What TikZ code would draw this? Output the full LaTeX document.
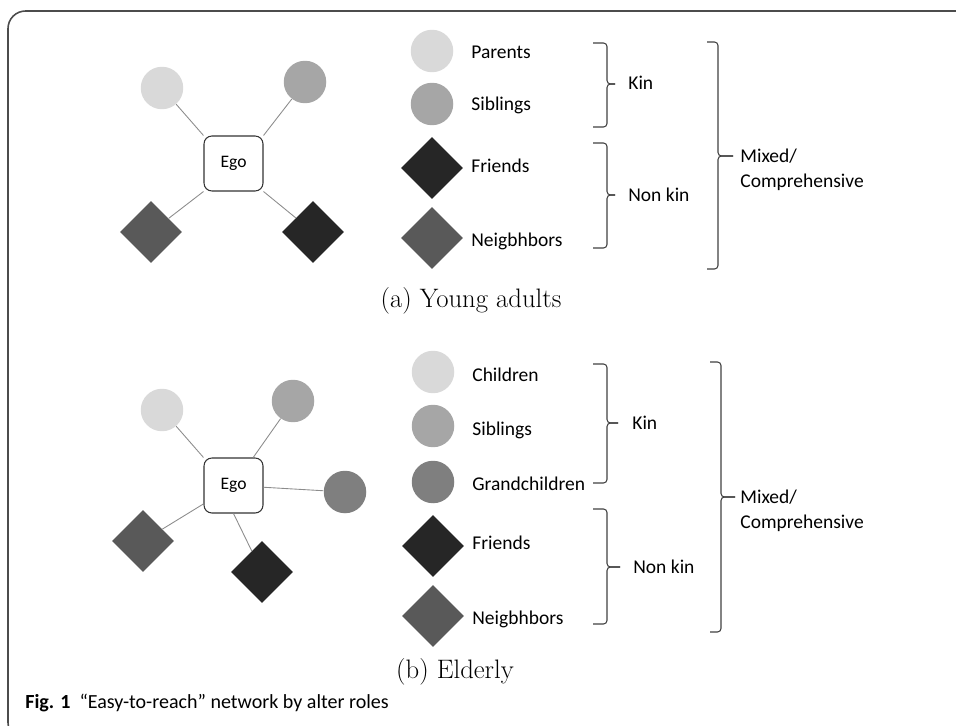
\documentclass[tikz,border=0pt]{standalone}
\usepackage{fontspec}
\newfontfamily\calibri{Carlito}
\usetikzlibrary{shapes.geometric}

\definecolor{lightalt}{HTML}{D9D9D9}
\definecolor{midalt}{HTML}{A6A6A6}
\definecolor{grandalt}{HTML}{7F7F7F}
\definecolor{neighalt}{HTML}{595959}
\definecolor{friendalt}{HTML}{262626}

\tikzset{
  alter/.style={circle,minimum size=0.85cm,inner sep=0pt},
  altsq/.style={diamond,minimum size=1.24cm,inner sep=0pt},
  egobox/.style={draw=black!80,line width=0.6pt,rounded corners=4.5pt,
    minimum width=1.18cm,minimum height=1.1cm,inner sep=0pt,
    font=\calibri\fontsize{10}{12}\selectfont},
  tie/.style={draw=black!45,line width=0.5pt},
  lab/.style={anchor=base west,inner sep=0pt,font=\calibri\fontsize{11.1}{13}\selectfont},
  grp/.style={draw=black!75,line width=0.6pt,rounded corners=2pt},
  subcap/.style={anchor=base,inner sep=0pt,font=\fontsize{15.2}{18}\selectfont},
}

% #1 stub x, #2 line x, #3 tip x, #4 top, #5 bottom, #6 tip y
\newcommand{\grpbrace}[6]{%
  \draw[grp] (#1,#4) -- (#2,#4) -- (#2,#6) -- (#3,#6);
  \draw[grp] (#1,#5) -- (#2,#5) -- (#2,#6) -- (#3,#6);
}

\begin{document}
\begin{tikzpicture}[x=0.02cm,y=-0.02cm]
\path[use as bounding box] (0,0) rectangle (956,726);
\draw[black!70,line width=0.9pt,rounded corners=10pt] (980,11) -- (8,11) -- (8,740) -- (30,740);

% (a) young adults
\node[egobox] (egoa) at (233.5,163.5) {Ego};
\node[alter,fill=lightalt] (pa) at (162,88) {};
\node[alter,fill=midalt] (sa) at (305,82) {};
\node[altsq,fill=neighalt] (na) at (151,232) {};
\node[altsq,fill=friendalt] (fa) at (313,232) {};
\draw[tie] (pa) -- (egoa.north west);
\draw[tie] (sa) -- (egoa.north east);
\draw[tie] (na) -- (egoa.south west);
\draw[tie] (fa) -- (egoa.south east);

\node[alter,fill=lightalt] (lpa) at (432,51) {};
\node[alter,fill=midalt] (lsa) at (432,104) {};
\node[altsq,fill=friendalt] (lfa) at (432,168) {};
\node[altsq,fill=neighalt] (lna) at (432,238) {};
\node[lab] (tpa) at (471,59) {Parents};
\node[lab] (tsa) at (471,111) {Siblings};
\node[lab] (tfa) at (471,173) {Friends};
\node[lab] (tna) at (471,246) {Neigbhbors};

\grpbrace{593}{607}{615}{43}{127}{84}
\grpbrace{593}{607}{615}{143}{248}{195}
\grpbrace{707}{718}{733}{42}{269}{156}
\node[lab] (kina) at (628,90) {Kin};
\node[lab] (nkina) at (628,201) {Non kin};
\node[lab,anchor=west,align=left,font=\calibri\fontsize{11.1}{14.2}\selectfont] (mixa) at (740,169.5) {Mixed/\\Comprehensive};

\node[subcap] (capa) at (471,307) {(a) Young adults};

% (b) elderly
\node[egobox] (egob) at (233.5,485.5) {Ego};
\node[alter,fill=lightalt] (cb) at (162,410) {};
\node[alter,fill=midalt] (sb) at (293,401) {};
\node[alter,fill=grandalt] (gb) at (345,492) {};
\node[altsq,fill=neighalt] (nb) at (143,541) {};
\node[altsq,fill=friendalt] (fb) at (262,572) {};
\draw[tie] (cb) -- (egob.north west);
\draw[tie] (sb) -- (egob);
\draw[tie] (gb) -- (egob);
\draw[tie] (nb) -- (egob);
\draw[tie] (fb) -- (egob.south);

\node[alter,fill=lightalt] (lcb) at (433,372) {};
\node[alter,fill=midalt] (lsb) at (433,426) {};
\node[alter,fill=grandalt] (lgb) at (433,482) {};
\node[altsq,fill=friendalt] (lfb) at (433,546) {};
\node[altsq,fill=neighalt] (lnb) at (433,616) {};
\node[lab] (tcb) at (472,381) {Children};
\node[lab] (tsb) at (472,435) {Siblings};
\node[lab] (tgb) at (472,490) {Grandchildren};
\node[lab] (tfb) at (472,549) {Friends};
\node[lab] (tnb) at (472,624) {Neigbhbors};

\grpbrace{593}{607}{618}{364}{483}{423}
\grpbrace{593}{607}{620}{509}{624}{567}
\grpbrace{710}{721}{735}{362}{632}{497}
\node[lab] (kinb) at (632,429) {Kin};
\node[lab] (nkinb) at (633,573) {Non kin};
\node[lab,anchor=west,align=left,font=\calibri\fontsize{11.1}{14.2}\selectfont] (mixb) at (740,510.5) {Mixed/\\Comprehensive};

\node[subcap] (capb) at (455,678) {(b) Elderly};

\node[lab,font=\calibri\fontsize{11.4}{13}\selectfont] (fig) at (25,708) {\textbf{Fig. 1}\hspace{0.45em}“Easy-to-reach” network by alter roles};
\end{tikzpicture}
\end{document}
